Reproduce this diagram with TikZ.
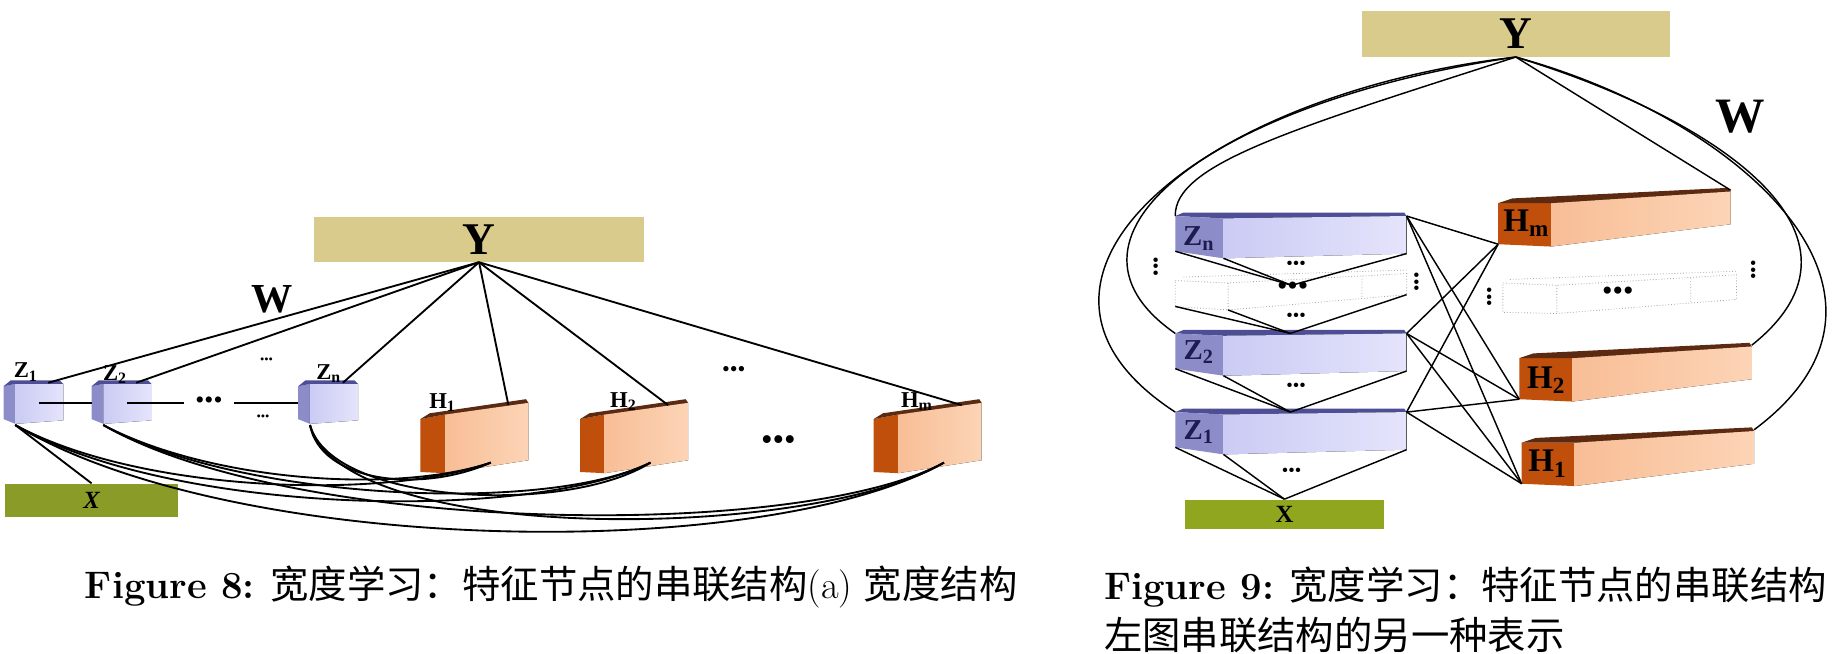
\documentclass[tikz,border=0pt]{standalone}
\usepackage{fontspec}
\newfontfamily\tnr{Liberation Serif}
\newfontfamily\cjk{Noto Sans CJK SC}
\usetikzlibrary{positioning}
\definecolor{ykhaki}{HTML}{D8CB8B}
\definecolor{xgreen}{HTML}{8A9B28}
\definecolor{xgreenb}{HTML}{8FA61E}
\definecolor{zfront}{HTML}{CBCBF4}
\definecolor{zlight}{HTML}{E4E4FC}
\definecolor{zside}{HTML}{8C8CC8}
\definecolor{ztop}{HTML}{4E4E96}
\definecolor{zink}{HTML}{1C1C50}
\definecolor{hfront}{HTML}{F8BE96}
\definecolor{hlight}{HTML}{FCD4B6}
\definecolor{hside}{HTML}{BF4F0B}
\definecolor{htop}{HTML}{5C2A10}

\begin{document}
\begin{tikzpicture}[x=0.02cm, y=-0.02cm,
  sz/.style={font=\tnr\bfseries\fontsize{#1}{#1}\selectfont, inner sep=0pt},
  dots/.style={font=\tnr\fontsize{#1}{#1}\selectfont, inner sep=0pt},
  ybox/.style={fill=ykhaki, inner sep=0pt, font=\tnr\bfseries\fontsize{22}{22}\selectfont},
  xbox/.style={inner sep=0pt, font=\tnr\bfseries\fontsize{12}{12}\selectfont},
  captxt/.style={anchor=west, inner sep=0pt, font=\fontsize{18.6}{22}\selectfont},
  wide/.style={line width=0.9pt},
  link/.style={line width=0.7pt},
  ghost/.style={draw=gray!70, densely dotted, line width=0.4pt}
]
\useasboundingbox (0,0) rectangle (1568,557);

% Figure 8
\node[ybox, minimum width=5.62cm, minimum height=0.76cm] (yl) at (408,204) {Y};
\node[xbox, fill=xgreen, minimum width=2.94cm, minimum height=0.56cm] (xl) at (78,426) {\itshape X};
\node[sz=20] (wl) at (232,255) {W};

\foreach \n/\x in {1/3,2/78,n/254}{
  \fill[zside] (\x,329) -- (\x+10,327) -- (\x+10,361) -- (\x,357) -- cycle;
  \fill[left color=zfront, right color=zlight] (\x+10,327) -- (\x+51,327) -- (\x+51,358) -- (\x+10,361) -- cycle;
  \fill[ztop] (\x,329) -- (\x+10,327) -- (\x+51,327) -- (\x+48,324) -- (\x+6,324) -- cycle;
  \coordinate (z\n-top) at (\x+38,326);
  \coordinate (z\n-bot) at (\x+10,362);
  \coordinate (z\n-mid) at (\x+30,343);
  \coordinate (z\n-w) at (\x,343);
}
\node[sz=11] (z1lab) at (22,317) {Z\textsubscript{1}};
\node[sz=11] (z2lab) at (98,319) {Z\textsubscript{2}};
\node[sz=11] (znlab) at (280,318) {Z\textsubscript{n}};

\foreach \n/\x in {1/358,2/494,m/744}{
  \fill[hside] (\x,357) -- (\x+21,353) -- (\x+21,403) -- (\x,402) -- cycle;
  \fill[left color=hfront, right color=hlight] (\x+21,353) -- (\x+92,343) -- (\x+92,392) -- (\x+21,403) -- cycle;
  \fill[htop] (\x,357) -- (\x+21,353) -- (\x+92,343) -- (\x+90,340) -- (\x+8,352) -- cycle;
  \coordinate (h\n-top) at (\x+75,345);
  \coordinate (h\n-end) at (\x+60,394);
}
\node[sz=11] (h1lab) at (377,343) {H\textsubscript{1}};
\node[sz=11] (h2lab) at (531,342) {H\textsubscript{2}};
\node[sz=11] (hmlab) at (781,342) {H\textsubscript{m}};

\node[dots=12.5, inner xsep=5.5pt] (ldots) at (178,343) {•••};
\node[dots=6] (ldotsa) at (227,307) {•••};
\node[dots=6] (ldotsb) at (224,356) {•••};
\node[dots=10.8] (hdotsa) at (625,316) {•••};
\node[dots=16] (hdotsb) at (663,377) {•••};

\draw[wide] (z1-mid) -- (z2-w);
\draw[wide] (z2-mid) -- (ldots);
\draw[wide] (ldots) -- (zn-w);

\foreach \t in {z1,z2,zn,h1,h2,hm}
  \draw[wide] (yl.south) -- (\t-top);
\draw[wide] (z1-bot) -- (xl.north);

\foreach \s/\e/\a/\b/\c/\d in {
  1/1/107/58/-91/32, 1/2/137/78/-101/50, 1/m/187/112/-154/86,
  2/1/91/48/-81/27, 2/2/111/63/-91/45, 2/m/161/93/-124/67,
  n/1/9/48/-61/27, n/2/19/68/-71/45, n/m/29/103/-114/67}
  \draw[wide] (z\s-bot) .. controls +(\a,\b) and +(\c,\d) .. (h\e-end);

% Figure 9
\node[ybox, minimum width=5.24cm, minimum height=0.77cm] (yr) at (1291,29) {Y};
\node[xbox, fill=xgreenb, minimum width=3.4cm, minimum height=0.5cm] (xr) at (1094,438) {X};
\node[sz=24] (wr) at (1482,99) {W};

\foreach \n/\y in {n/184,2/284,1/351}{
  \fill[ztop] (1001,\y) -- (1042,\y+2) -- (1198,\y) -- (1196,\y-3) -- (1008,\y-3) -- cycle;
  \fill[zside] (1001,\y) -- (1042,\y+2) -- (1042,\y+36) -- (1001,\y+30) -- cycle;
  \fill[left color=zfront, right color=zlight] (1042,\y+2) -- (1198,\y) -- (1198,\y+32) -- (1042,\y+36) -- cycle;
  \coordinate (zb\n-tl) at (1001,\y);
  \coordinate (zb\n-tm) at (1099,\y);
  \coordinate (zb\n-tr) at (1198,\y);
  \coordinate (zb\n-bl) at (1001,\y+30);
  \coordinate (zb\n-bm) at (1042,\y+36);
  \coordinate (zb\n-br) at (1198,\y+32);
}
\node[sz=14, text=zink] (zbnlab) at (1021,203) {Z\textsubscript{n}};
\node[sz=14, text=zink] (zb2lab) at (1021,300) {Z\textsubscript{2}};
\node[sz=14, text=zink] (zb1lab) at (1021,368) {Z\textsubscript{1}};

\draw[ghost] (1001,239) -- (1046,241) -- (1198,233) -- (1198,251) -- (1046,264) -- (1001,261) -- cycle;
\draw[ghost] (1046,241) -- (1046,264) (1160,235) -- (1160,254) (1008,236) -- (1198,230);
\coordinate (zd-tm) at (1100,243);
\coordinate (zd-bl) at (1001,261);
\coordinate (zd-bm) at (1046,264);
\coordinate (zd-br) at (1198,251);

\foreach \n/\x/\y in {m/1276/173,2/1294/305,1/1296/377}{
  \fill[hside] (\x,\y) -- (\x+45,\y) -- (\x+45,\y+37) -- (\x,\y+35) -- cycle;
  \fill[left color=hfront, right color=hlight] (\x+45,\y) -- (\x+198,\y-10) -- (\x+198,\y+18) -- (\x+45,\y+37) -- cycle;
  \fill[htop] (\x,\y) -- (\x+45,\y) -- (\x+198,\y-10) -- (\x+196,\y-13) -- (\x+12,\y-4) -- cycle;
  \coordinate (hb\n-bl) at (\x,\y+35);
  \coordinate (hb\n-tr) at (\x+198,\y-11);
}
\node[sz=16] (hbmlab) at (1300,190) {H\textsubscript{m}};
\node[sz=16] (hb2lab) at (1317,324) {H\textsubscript{2}};
\node[sz=16] (hb1lab) at (1318,395) {H\textsubscript{1}};

\draw[ghost] (1280,241) -- (1326,243) -- (1479,234) -- (1479,255) -- (1326,267) -- (1280,266) -- cycle;
\draw[ghost] (1326,243) -- (1326,267) (1440,237) -- (1440,258) (1286,238) -- (1479,231);

\node[dots=14.5] (zdots) at (1101,246) {•••};
\node[dots=14.5] (hdots) at (1378,250) {•••};
\node[dots=9] (zdotsa) at (1104,226) {•••};
\node[dots=9] (zdotsb) at (1104,270) {•••};
\node[dots=9] (zdotsc) at (1104,330) {•••};
\node[dots=9] (zdotsd) at (1100,402) {•••};
\node[dots=9, rotate=90] (vdotsa) at (986,227) {•••};
\node[dots=9, rotate=90] (vdotsb) at (1208,240) {•••};
\node[dots=9, rotate=90] (vdotsc) at (1270,253) {•••};
\node[dots=9, rotate=90] (vdotsd) at (1495,230) {•••};

\foreach \c in {bl,bm,br}{
  \draw[link] (zbn-\c) -- (zd-tm);
  \draw[link] (zd-\c) -- (zb2-tm);
  \draw[link] (zb2-\c) -- (zb1-tm);
  \draw[link] (zb1-\c) -- (xr.north);
}
\foreach \a in {n,2,1}
  \foreach \b in {m,2,1}
    \draw[link] (zb\a-tr) -- (hb\b-bl);

\draw[link] (yr.south) .. controls (1100,110) and (1000,140) .. (zbn-tl);
\draw[link] (yr.south) .. controls (1040,85) and (880,200) .. (zb2-tl);
\draw[link] (yr.south) .. controls (1020,80) and (830,240) .. (zb1-tl);
\draw[link] (yr.south) -- (hbm-tr);
\draw[link] (yr.south) .. controls (1460,100) and (1610,200) .. (hb2-tr);
\draw[link] (yr.south) .. controls (1480,100) and (1650,250) .. (hb1-tr);

% captions
\node[captxt] (cap8) at (72,500) {\textbf{Figure 8:} {\cjk 宽度学习：特征节点的串联结构}(a) {\cjk 宽度结构}};
\node[captxt] (cap9) at (940,500) {\textbf{Figure 9:} {\cjk 宽度学习：特征节点的串联结构}};
\node[captxt] (cap9b) at (940,541) {\cjk 左图串联结构的另一种表示};
\end{tikzpicture}
\end{document}
